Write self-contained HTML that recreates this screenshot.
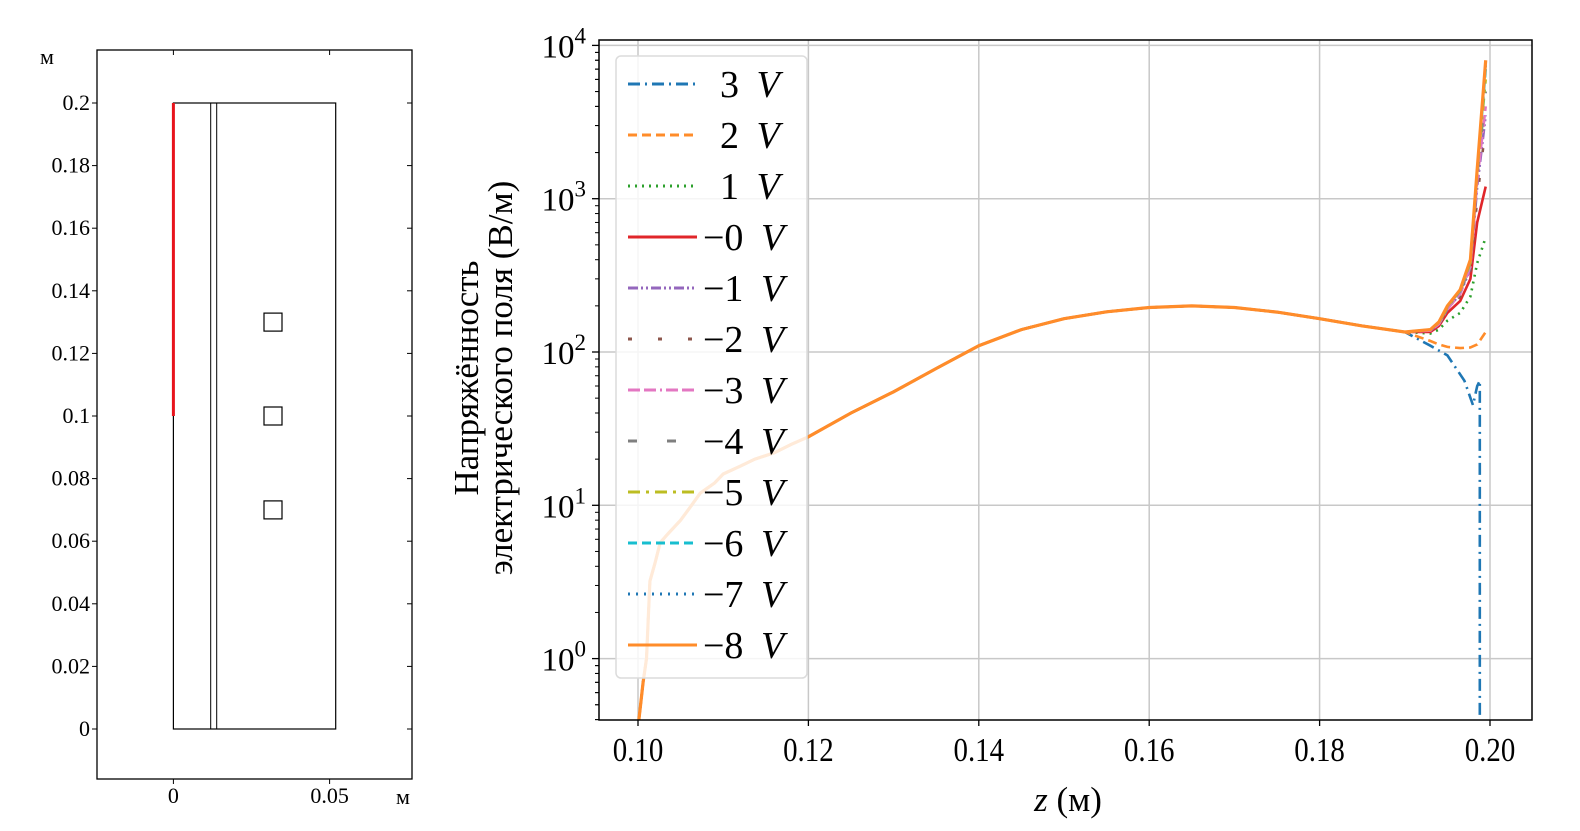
<!DOCTYPE html>
<html><head><meta charset="utf-8">
<style>
html,body{margin:0;padding:0;background:#fff;}
svg{display:block;font-family:"Liberation Serif",serif;}
</style></head>
<body>
<svg id="fig" width="1580" height="831" viewBox="0 0 1580 831" xmlns="http://www.w3.org/2000/svg">
  <g id="left"></g>
  <g id="right"></g>
</svg>
<script>
// ---------- data ----------
const leftYTicks = [0,0.02,0.04,0.06,0.08,0.1,0.12,0.14,0.16,0.18,0.2];
const leftYLabels = ["0","0.02","0.04","0.06","0.08","0.1","0.12","0.14","0.16","0.18","0.2"];
const leftXTicks = [0,0.05];
const leftXLabels = ["0","0.05"];
const squareCentersY = [0.13,0.1,0.07];

const xTicks = [0.10,0.12,0.14,0.16,0.18,0.20];
const xTickLabels = ["0.10","0.12","0.14","0.16","0.18","0.20"];
const yTickExps = [0,1,2,3,4];

const commonZ = [0.1000,0.1001,0.1003,0.1006,0.1010,0.1014,0.1020,0.1026,0.1035,0.105,0.106,0.1073,0.109,0.110,0.112,0.1137,0.116,0.118,0.120,0.125,0.130,0.135,0.140,0.145,0.150,0.155,0.160,0.165,0.170,0.175,0.180,0.185,0.190];
const commonE = [0.3,0.4,0.5,0.7,1.0,3.2,4.2,5.7,6.5,8,9.5,12,14,16,18,20,22,25,28,40,55,78,110,140,165,183,195,200,195,182,165,148,135];

const tailZ = [0.190,0.193,0.194,0.195,0.1965,0.1977,0.1985,0.1995];
const tail3Z = [0.190,0.193,0.195,0.197,0.198,0.1985,0.1988,0.1988];

const seriesNames = ["3","2","1","−0","−1","−2","−3","−4","−5","−6","−7","−8"];
const tail3 = [125,110,95,65,45,60,65,0.3];
const tail2 = [128,118,112,108,106,107,112,135];
const tail1 = [130,132,140,160,180,230,380,560];
const tailM0 = [133,135,148,180,215,300,700,1200];
const tailM1 = [134,138,152,190,240,350,1200,3500];
const tailM2 = [134,137,150,185,230,330,1000,3000];
const tailM3 = [134,138,152,190,240,360,1300,4000];
const tailM4 = [135,139,154,192,245,370,1400,5000];
const tailM5 = [135,140,155,195,250,380,1500,6000];
const tailM6 = [135,140,155,198,250,390,1500,7000];
const tailM7 = [135,140,156,198,252,395,1550,7500];
const tailM8 = [135,140,157,200,255,400,1560,8000];

// ---------- helpers ----------
const NS="http://www.w3.org/2000/svg";
function mk(tag,attrs,parent){const e=document.createElementNS(NS,tag);for(const k in attrs)e.setAttribute(k,attrs[k]);parent.appendChild(e);return e;}

// ---------- left panel ----------
const L=document.getElementById('left');
const lx=v=>173.4+v*3124, ly=v=>729-v*3130;
let fr=mk('rect',{x:97,y:50,width:315,height:729,fill:'none',stroke:'#000','stroke-width':1.3},L);

leftYTicks.forEach((t,i)=>{
  const y=ly(t);
  let tk=mk('line',{x1:92,x2:97,y1:y,y2:y,stroke:'#000'},L);
  
  mk('line',{x1:407,x2:412,y1:y,y2:y,stroke:'#000'},L);
  let tx=mk('text',{x:90,y:y+7,'text-anchor':'end','font-size':22},L);tx.textContent=leftYLabels[i];
  
});
leftXTicks.forEach((t,i)=>{
  const x=lx(t);
  mk('line',{x1:x,x2:x,y1:779,y2:784,stroke:'#000'},L);
  mk('line',{x1:x,x2:x,y1:50,y2:55,stroke:'#000'},L);
  let tx=mk('text',{x:x,y:803,'text-anchor':'middle','font-size':22},L);tx.textContent=leftXLabels[i];
  
});
let u1=mk('text',{x:40,y:64,'font-size':22},L);u1.textContent='м';

let u2=mk('text',{x:396,y:804,'font-size':22},L);u2.textContent='м';

let dom=mk('rect',{x:lx(0),y:ly(0.2),width:162.3,height:ly(0)-ly(0.2),fill:'none',stroke:'#000','stroke-width':1.2},L);

mk('line',{x1:210.7,x2:210.7,y1:ly(0.2),y2:ly(0),stroke:'#000','stroke-width':1},L);
mk('line',{x1:216.7,x2:216.7,y1:ly(0.2),y2:ly(0),stroke:'#000','stroke-width':1},L);
let el=mk('line',{x1:lx(0),x2:lx(0),y1:ly(0.2),y2:ly(0.1),stroke:'#e8141c','stroke-width':3},L);

squareCentersY.forEach(c=>{
  let s=mk('rect',{x:264,y:ly(c)-9,width:18,height:18,fill:'none',stroke:'#000','stroke-width':1.2},L);
  
});

// ---------- right chart ----------
const R=document.getElementById('right');
const PL=599,PR=1532,PT=40,PB=720;
const X=z=>638+(z-0.10)*8520;
const Y=e=>352-(Math.log10(e)-2)*153.3;
mk('clipPath',{id:'clip'},R);
mk('rect',{x:PL,y:PT,width:PR-PL,height:PB-PT},document.getElementById('clip'));
xTicks.forEach(t=>{let g=mk('line',{x1:X(t),x2:X(t),y1:PT,y2:PB,stroke:'#c8c8c8','stroke-width':1.5},R);
  });
yTickExps.forEach(p=>{let g=mk('line',{x1:PL,x2:PR,y1:Y(Math.pow(10,p)),y2:Y(Math.pow(10,p)),stroke:'#c8c8c8','stroke-width':1.5},R);
  });
const styles=[
 ['#1f77b4','12,5,2,5'],['#ff8c2a','9,5'],['#2ca02c','2,5'],['#e0262a',''],
 ['#9467bd','10,3,2,3,2,3'],['#8c564b','4,26'],['#e377c2','12,4,12,4,2,4'],['#7f7f7f','9,30'],
 ['#bcbd22','12,6,3,6'],['#17becf','9,5'],['#1f77b4','2,6'],['#ff8c2a','']];
const tails=[tail3,tail2,tail1,tailM0,tailM1,tailM2,tailM3,tailM4,tailM5,tailM6,tailM7,tailM8];
const lg=mk('g',{'clip-path':'url(#clip)'},R);
tails.forEach((tl,i)=>{
  const zt=i===0?tail3Z:tailZ;
  const zs=commonZ.concat(zt.slice(1)), es=commonE.concat(tl.slice(1));
  let d='';
  zs.forEach((z,j)=>{d+=(j?'L':'M')+X(z).toFixed(1)+','+Math.min(Y(es[j]),PB+20).toFixed(1);});
  let p=mk('path',{d:d,fill:'none',stroke:styles[i][0],'stroke-width':i===11?3.2:2.6,'stroke-dasharray':styles[i][1]},lg);
  
  
});
let ax=mk('rect',{x:PL,y:PT,width:PR-PL,height:PB-PT,fill:'none',stroke:'#000','stroke-width':1.5},R);

xTicks.forEach((t,i)=>{
  mk('line',{x1:X(t),x2:X(t),y1:PB,y2:PB+6,stroke:'#000','stroke-width':1.3},R);
  let tx=mk('text',{x:X(t),y:PB+41,'text-anchor':'middle','font-size':34,transform:`translate(${X(t)},0) scale(0.85,1) translate(${-X(t)},0)`},R);
  tx.textContent=xTickLabels[i];
  
});
yTickExps.forEach(p=>{
  const y=Y(Math.pow(10,p));
  mk('line',{x1:PL-7,x2:PL,y1:y,y2:y,stroke:'#000','stroke-width':1.3},R);
  for(let m=2;m<10;m++){const yy=Y(m*Math.pow(10,p-1));if(yy<=PB&&yy>=PT)mk('line',{x1:PL-4,x2:PL,y1:yy,y2:yy,stroke:'#000','stroke-width':1},R);}
  let tx=mk('text',{x:586,y:y+12,'text-anchor':'end','font-size':33},R);
  tx.innerHTML='10<tspan dy="-14" font-size="23">'+p+'</tspan>';
  
});
for(let m=2;m<10;m++){const yy=Y(m*1000);if(yy>=PT)mk('line',{x1:PL-4,x2:PL,y1:yy,y2:yy,stroke:'#000','stroke-width':1},R);}
for(let m=4;m<10;m++){const yy=Y(m*0.1);if(yy<=PB)mk('line',{x1:PL-4,x2:PL,y1:yy,y2:yy,stroke:'#000','stroke-width':1},R);}
let xt=mk('text',{x:1068,y:811,'text-anchor':'middle','font-size':35},R);
xt.innerHTML='<tspan font-style="italic">z</tspan> (м)';

let yt=mk('text',{'text-anchor':'middle','font-size':35,transform:'rotate(-90)'},R);
yt.innerHTML='<tspan x="-378" y="478">Напряжённость</tspan><tspan x="-378" y="512">электрического поля (В/м)</tspan>';

const LG=mk('g',{},R);

mk('rect',{x:616,y:56,width:191,height:622,rx:5,fill:'rgba(255,255,255,0.82)',stroke:'#dcdcdc','stroke-width':1.5},LG);
seriesNames.forEach((n,i)=>{
  const y=84+i*51;
  let ln=mk('line',{x1:628,x2:697,y1:y,y2:y,stroke:styles[i][0],'stroke-width':3,'stroke-dasharray':styles[i][1]},LG);
  
  let tx=mk('text',{x:n.startsWith('−')?703:720,y:y+13,'font-size':38},LG);
  tx.innerHTML=n+' <tspan font-style="italic" dx="8">V</tspan>';
  
});
</script>
</body></html>
